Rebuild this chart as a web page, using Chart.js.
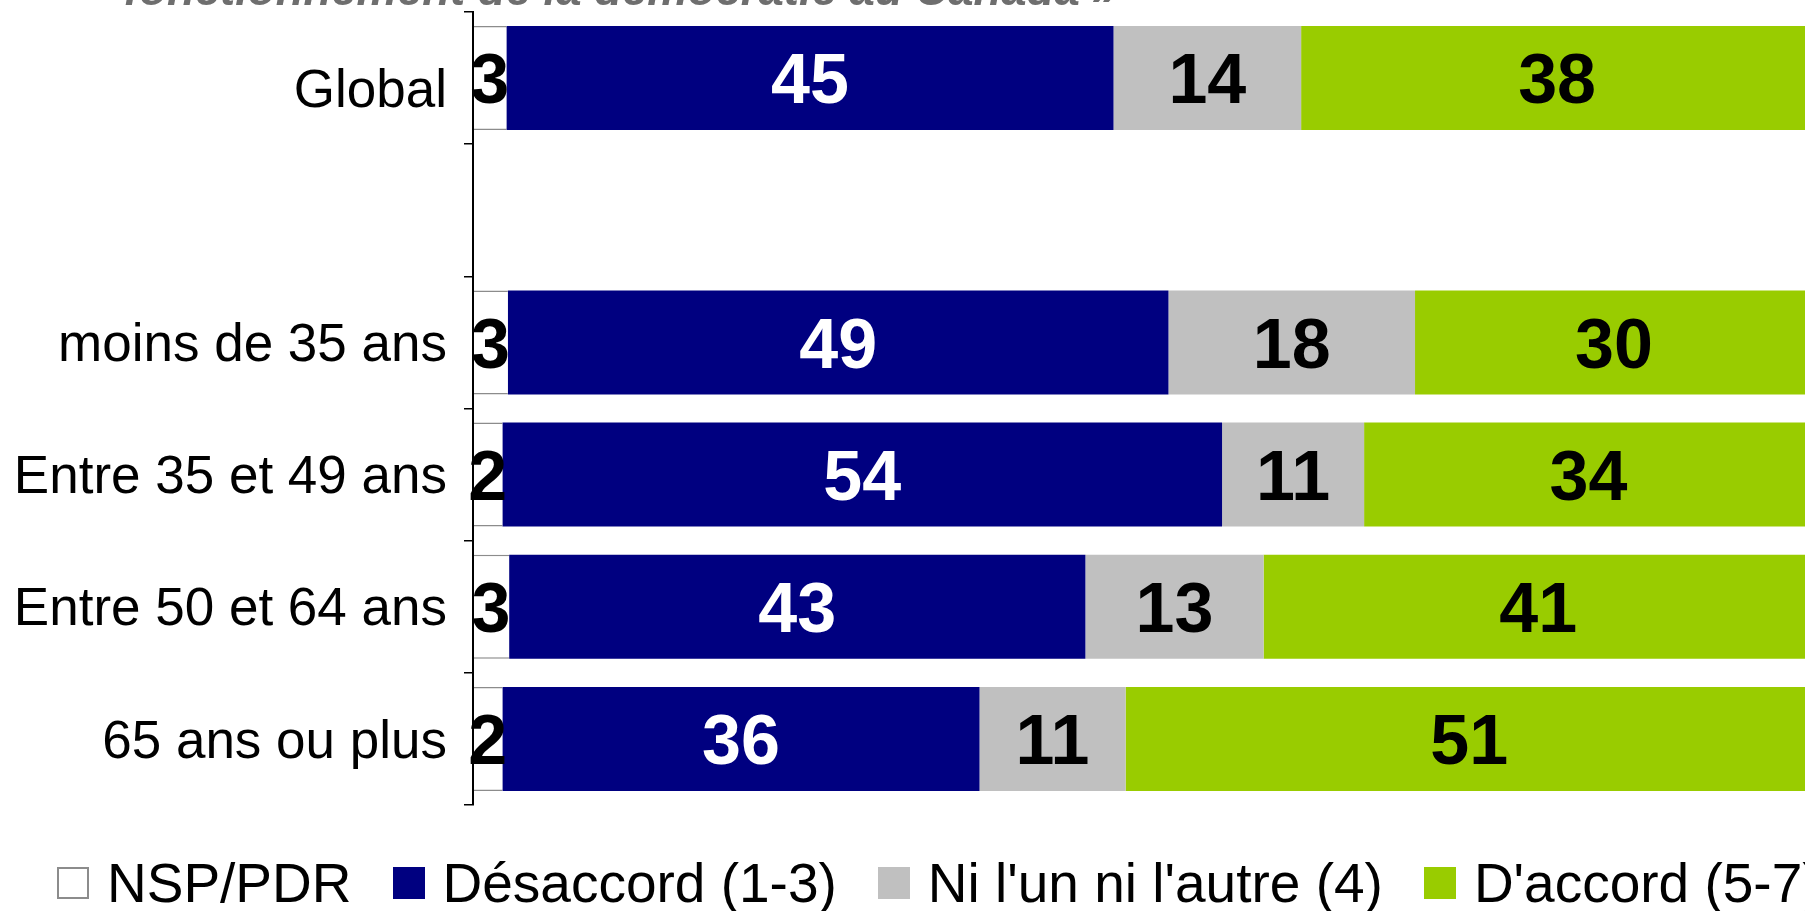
<!DOCTYPE html>
<html>
<head>
<meta charset="utf-8">
<script src="https://cdn.jsdelivr.net/npm/chart.js@4/dist/chart.umd.min.js"></script>
<style>
  html, body { margin: 0; padding: 0; overflow: hidden; background: #fff; }
  #wrap { position: relative; width: 1805px; height: 911px; overflow: hidden; }
  #c { position: absolute; left: 0; top: 0; }
  #legend { position: absolute; left: 57px; top: 848px; height: 70px; display: flex; align-items: center; white-space: nowrap;
            font-family: 'Liberation Sans', Arial, sans-serif; font-size: 55px; color: #000; }
  .item { display: flex; align-items: center; margin-right: 41px; }
  .box { width: 32px; height: 32px; box-sizing: border-box; margin-right: 18px; flex: none; }
</style>
</head>
<body>
<div id="wrap">
  <canvas id="c" width="1813" height="911"></canvas>
  <div id="legend"></div>
</div>
<script>
const categories = ["Global", "", "moins de 35 ans", "Entre 35 et 49 ans", "Entre 50 et 64 ans", "65 ans ou plus"];
const seriesNames = ["NSP/PDR", "Désaccord (1-3)", "Ni l'un ni l'autre (4)", "D'accord (5-7)"];
const nspValues = [2.5, null, 2.6, 2.2, 2.7, 2.2];
const desaccordValues = [45.3, null, 49.3, 53.7, 43.0, 35.6];
const niValues = [14.0, null, 18.4, 10.6, 13.3, 10.9];
const accordValues = [38.2, null, 29.7, 33.5, 41.0, 51.3];
const titleText = "fonctionnement de la démocratie au Canada »";

const FONT = "'Liberation Sans', Arial, sans-serif";
const fills = ['#FFFFFF', '#000080', '#C0C0C0', '#99CC00'];
const labelColors = ['#000000', '#FFFFFF', '#000000', '#000000'];
const seriesValues = [nspValues, desaccordValues, niValues, accordValues];

const datasets = seriesValues.map((vals, i) => ({
  label: seriesNames[i],
  data: vals,
  backgroundColor: fills[i],
  borderColor: i === 0 ? '#8C8C8C' : fills[i],
  borderWidth: i === 0 ? {top: 1.5, bottom: 1.5, left: 0, right: 0} : 0,
  borderSkipped: false,
  barPercentage: 0.787,
  categoryPercentage: 1.0
}));

const valueLabels = {
  id: 'valueLabels',
  afterDatasetsDraw(chart) {
    const ctx = chart.ctx;
    ctx.save();
    ctx.font = "bold 70px " + FONT;
    ctx.textAlign = 'center';
    ctx.textBaseline = 'middle';
    chart.data.datasets.forEach((ds, di) => {
      const meta = chart.getDatasetMeta(di);
      meta.data.forEach((el, j) => {
        const v = ds.data[j];
        if (v === null || v === undefined) return;
        const p = el.getCenterPoint();
        ctx.fillStyle = labelColors[di];
        ctx.fillText(String(Math.round(v)), p.x, p.y + 6);
      });
    });
    ctx.restore();
  }
};

const topTitle = {
  id: 'topTitle',
  afterDraw(chart) {
    const ctx = chart.ctx;
    ctx.save();
    ctx.font = "italic bold 45.5px " + FONT;
    ctx.fillStyle = '#6E6E6E';
    ctx.textAlign = 'left';
    ctx.textBaseline = 'alphabetic';
    ctx.fillText(titleText, 124, 5);
    ctx.restore();
  }
};

new Chart(document.getElementById('c'), {
  type: 'bar',
  data: { labels: categories, datasets },
  options: {
    indexAxis: 'y',
    responsive: false,
    animation: false,
    devicePixelRatio: 1,
    layout: { padding: { top: 12, bottom: 106, left: 0, right: 0 } },
    plugins: { legend: { display: false }, tooltip: { enabled: false }, title: { display: false } },
    scales: {
      x: { stacked: true, min: 0, max: 100, display: false },
      y: {
        stacked: true,
        offset: true,
        afterFit(scale) { scale.width = 473; scale.paddingTop = 0; scale.paddingBottom = 0; },
        grid: { offset: true, drawOnChartArea: false, drawTicks: true, tickLength: 9, color: '#000', lineWidth: 1.5 },
        border: { display: true, color: '#000', width: 2, z: 1 },
        ticks: {
          color: '#000',
          font: (c) => c.index === 0 ? { family: FONT, size: 53, lineHeight: '20px' } : { family: FONT, size: 53 },
          padding: 17,
          labelOffset: 4,
          autoSkip: false,
          callback: function(value, index) {
            const lab = this.getLabelForValue(value);
            return index === 0 ? ['', lab] : lab;
          }
        }
      }
    }
  },
  plugins: [valueLabels, topTitle]
});

const legend = document.getElementById('legend');
seriesNames.forEach((name, i) => {
  const item = document.createElement('div');
  item.className = 'item';
  const box = document.createElement('span');
  box.className = 'box';
  box.style.background = fills[i];
  if (i === 0) box.style.border = '2px solid #8C8C8C';
  const txt = document.createElement('span');
  txt.textContent = name;
  item.appendChild(box);
  item.appendChild(txt);
  legend.appendChild(item);
});
</script>
</body>
</html>
